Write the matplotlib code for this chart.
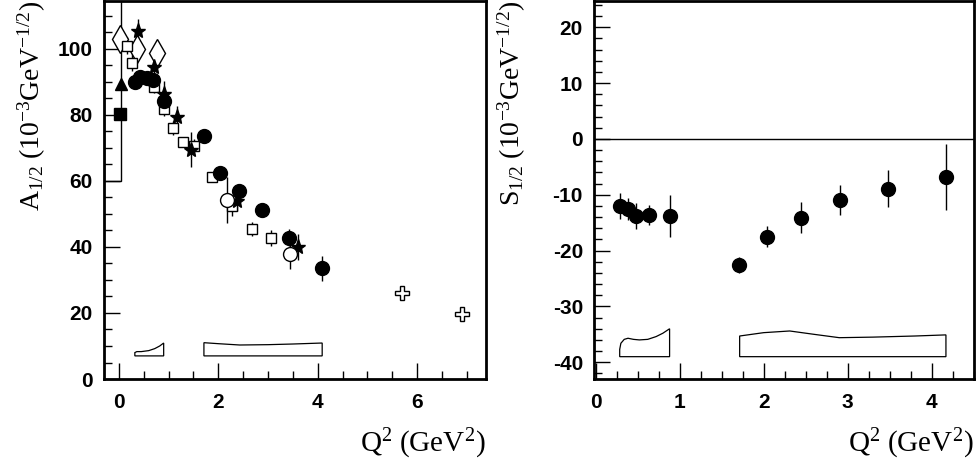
import matplotlib
matplotlib.use('Agg')
import matplotlib.pyplot as plt
from matplotlib.ticker import MultipleLocator
from matplotlib.patches import Rectangle

plt.rcParams['font.family'] = ['Liberation Sans', 'DejaVu Sans']
plt.rcParams['mathtext.fontset'] = 'custom'
plt.rcParams['mathtext.rm'] = 'Liberation Serif'
plt.rcParams['mathtext.it'] = 'Liberation Serif:italic'
plt.rcParams['axes.unicode_minus'] = False

# ---- A1/2 data ----
clas_q2 = [0.32, 0.42, 0.56, 0.69, 0.90, 1.71, 2.03, 2.41, 2.88, 3.42, 4.09]
clas_a12 = [89.8, 91.5, 91.1, 90.7, 84.3, 73.7, 62.4, 56.9, 51.1, 42.8, 33.5]
clas_a12_err = [2.0, 1.5, 1.5, 1.5, 2.0, 1.5, 1.5, 1.5, 1.5, 2.5, 3.7]

sq_q2 = [0.17, 0.27, 0.70, 0.90, 1.09, 1.29, 1.51, 1.88, 2.28, 2.67, 3.06]
sq_a12 = [101.0, 95.8, 88.5, 81.7, 76.0, 71.7, 70.7, 61.1, 52.3, 45.4, 42.7]
sq_a12_err = [2.5, 2.5, 2.0, 2.0, 2.0, 1.5, 2.0, 1.5, 3.0, 2.0, 2.5]

star_q2 = [0.39, 0.70, 0.90, 1.16, 1.44, 2.37, 3.60]
star_a12 = [105.4, 94.5, 86.3, 79.2, 69.4, 53.9, 40.0]
star_a12_err = [3.5, 3.0, 4.0, 3.5, 5.3, 3.0, 4.0]

ocirc_q2 = [2.18, 3.45]
ocirc_a12 = [54.1, 38.0]
ocirc_a12_err = [7.0, 4.6]

diam_q2 = [0.02, 0.36, 0.76]
diam_a12 = [102.9, 99.8, 98.8]

tri_q2 = [0.05]
tri_a12 = [89.3]
fsq_q2 = [0.02]
fsq_a12 = [80.2]

cross_q2 = [5.69, 6.91]
cross_a12 = [25.9, 19.6]

# photon point band at Q2=0
photon_box = [-0.3, 0.05, 60.0, 120.0]

# systematic bands (outline)
a_band1_x = [0.32, 0.32, 0.36, 0.45, 0.6, 0.72, 0.82, 0.90, 0.90, 0.32]
a_band1_y = [7.0, 8.0, 8.3, 8.3, 8.6, 9.2, 10.0, 10.9, 7.0, 7.0]
a_band2_x = [1.71, 1.71, 2.0, 2.43, 3.0, 3.5, 4.09, 4.09, 1.71]
a_band2_y = [7.0, 11.0, 10.7, 10.3, 10.4, 10.6, 10.9, 7.0, 7.0]

# ---- S1/2 data ----
s_q2 = [0.29, 0.39, 0.48, 0.64, 0.89, 1.71, 2.04, 2.44, 2.91, 3.48, 4.17]
s12 = [-12.0, -12.6, -13.8, -13.6, -13.8, -22.6, -17.5, -14.1, -10.9, -8.9, -6.9]
s12_err = [2.3, 2.0, 2.4, 1.8, 3.8, 1.5, 1.9, 2.8, 2.7, 3.3, 5.9]

s_band1_x = [0.286, 0.286, 0.30, 0.34, 0.385, 0.45, 0.52, 0.62, 0.72, 0.80, 0.88, 0.88, 0.286]
s_band1_y = [-39.0, -37.7, -36.6, -35.9, -35.7, -35.9, -36.0, -35.9, -35.4, -34.8, -34.0, -39.0, -39.0]
s_band2_x = [1.714, 1.714, 2.0, 2.31, 2.6, 2.9, 3.3, 3.8, 4.17, 4.17, 1.714]
s_band2_y = [-39.0, -35.3, -34.7, -34.4, -35.0, -35.6, -35.5, -35.3, -35.1, -39.0, -39.0]

fig = plt.figure(figsize=(9.76, 4.63), dpi=100)
ax1 = fig.add_axes([0.1066, 0.1814, 0.391, 0.8166])
ax2 = fig.add_axes([0.6086, 0.1814, 0.389, 0.8166])

ebkw = dict(ls='none', ecolor='black', elinewidth=1.0, capsize=0)

# left panel
ax1.add_patch(Rectangle((photon_box[0], photon_box[2]), photon_box[1] - photon_box[0],
                        photon_box[3] - photon_box[2], fill=False, ec='black', lw=1.0))
ax1.fill(a_band1_x, a_band1_y, fill=False, ec='black', lw=0.9)
ax1.fill(a_band2_x, a_band2_y, fill=False, ec='black', lw=0.9)
ax1.errorbar(sq_q2, sq_a12, yerr=sq_a12_err, marker='s', ms=7.5, mfc='white', mec='black', mew=1.0, **ebkw)
ax1.errorbar(star_q2, star_a12, yerr=star_a12_err, marker='*', ms=11, mfc='black', mec='black', **ebkw)
ax1.errorbar(ocirc_q2, ocirc_a12, yerr=ocirc_a12_err, marker='o', ms=10, mfc='white', mec='black', mew=1.0, **ebkw)
ax1.plot(diam_q2, diam_a12, ls='none', marker='d', ms=14, mfc='white', mec='black', mew=1.0)
ax1.plot(tri_q2, tri_a12, ls='none', marker='^', ms=9, mfc='black', mec='black')
ax1.plot(fsq_q2, fsq_a12, ls='none', marker='s', ms=8.5, mfc='black', mec='black')
ax1.plot(cross_q2, cross_a12, ls='none', marker='P', ms=9.5, mfc='white', mec='black', mew=1.0)
ax1.errorbar(clas_q2, clas_a12, yerr=clas_a12_err, marker='o', ms=10, mfc='black', mec='black', **ebkw)
ax1.set_xlim(-0.3, 7.38)
ax1.set_ylim(0, 114.5)
ax1.xaxis.set_major_locator(MultipleLocator(2))
ax1.xaxis.set_minor_locator(MultipleLocator(0.5))
ax1.yaxis.set_major_locator(MultipleLocator(20))
ax1.yaxis.set_minor_locator(MultipleLocator(5))

# right panel
ax2.axhline(0, color='black', lw=1.0)
ax2.fill(s_band1_x, s_band1_y, fill=False, ec='black', lw=0.9)
ax2.fill(s_band2_x, s_band2_y, fill=False, ec='black', lw=0.9)
ax2.errorbar(s_q2, s12, yerr=s12_err, marker='o', ms=10, mfc='black', mec='black', **ebkw)
ax2.set_xlim(-0.02, 4.5)
ax2.set_ylim(-43, 24.7)
ax2.xaxis.set_major_locator(MultipleLocator(1))
ax2.xaxis.set_minor_locator(MultipleLocator(0.25))
ax2.yaxis.set_major_locator(MultipleLocator(10))
ax2.yaxis.set_minor_locator(MultipleLocator(2))

for ax in (ax1, ax2):
    for s in ax.spines.values():
        s.set_linewidth(2.0)
    ax.tick_params(which='both', direction='in', top=False, right=False, width=1.0, labelsize=15)
    ax.tick_params(which='major', length=11.5)
    ax.tick_params(which='minor', length=5.8)
    ax.tick_params(axis='x', which='both', pad=10)
    ax.tick_params(axis='y', which='both', pad=8)
    for lab in ax.get_xticklabels() + ax.get_yticklabels():
        lab.set_fontweight('bold')

ax1.text(1.0, -0.193, r'$\mathrm{Q^2\ (GeV^2)}$', transform=ax1.transAxes,
         ha='right', va='baseline', fontsize=21)
ax2.text(1.0, -0.193, r'$\mathrm{Q^2\ (GeV^2)}$', transform=ax2.transAxes,
         ha='right', va='baseline', fontsize=21)
ax1.text(-0.19, 1.0, r'$\mathrm{A_{1/2}\ (10^{-3}GeV^{-1/2})}$', transform=ax1.transAxes,
         ha='center', va='top', rotation=90, fontsize=20)
ax2.text(-0.216, 1.0, r'$\mathrm{S_{1/2}\ (10^{-3}GeV^{-1/2})}$', transform=ax2.transAxes,
         ha='center', va='top', rotation=90, fontsize=20)

fig.savefig('out.png', dpi=100)
